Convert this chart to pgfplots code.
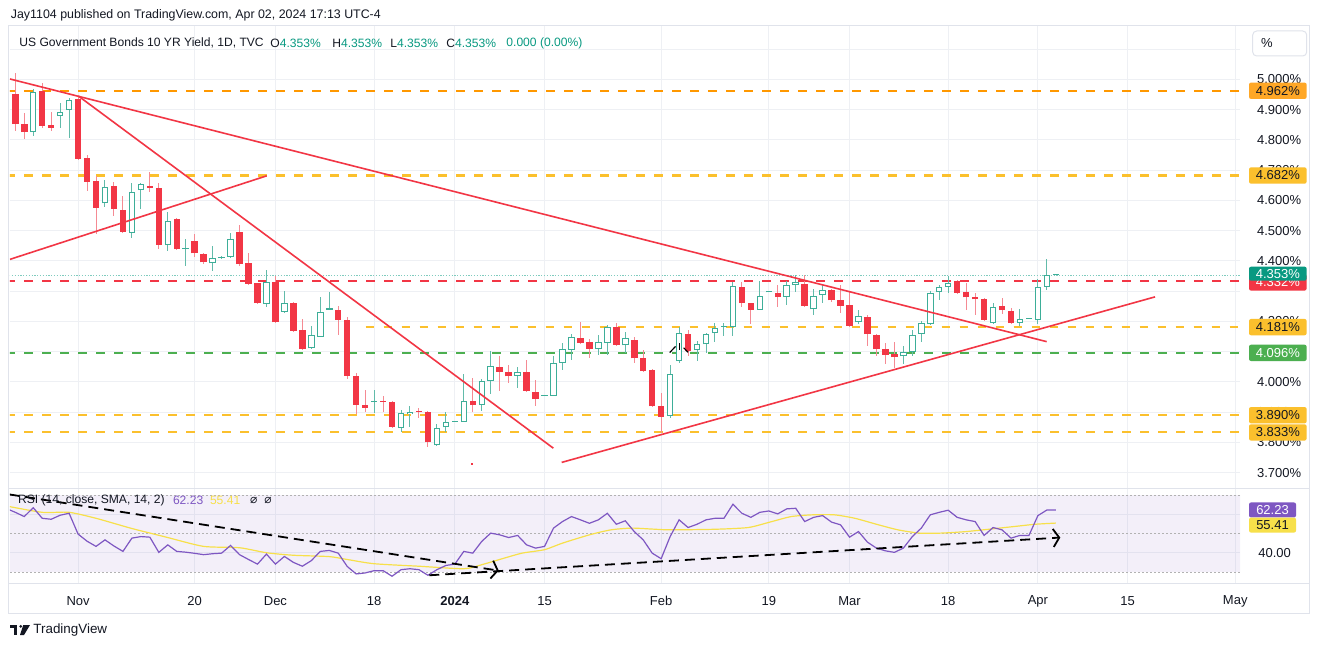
\documentclass[border=0pt]{standalone}
\usepackage{pgfplots}
\usepackage{pgfplotstable}
\pgfplotsset{compat=1.18}
\usepackage{fontspec}
\setmainfont{Liberation Sans}
\newfontfamily\symfont{DejaVu Sans}
\usetikzlibrary{arrows.meta}

\definecolor{tvred}{HTML}{F23645}
\definecolor{tvteal}{HTML}{089981}
\definecolor{tvorange}{HTML}{FF9800}
\definecolor{tvorbadge}{HTML}{FFA726}
\definecolor{tvyellow}{HTML}{FBC02D}
\definecolor{tvgreen}{HTML}{4CAF50}
\definecolor{tvpurple}{HTML}{7E57C2}
\definecolor{tvsma}{HTML}{F7E04A}
\definecolor{gridc}{HTML}{EEF0F4}
\definecolor{framec}{HTML}{E0E3EB}
\definecolor{txt}{HTML}{131722}
\definecolor{wickred}{HTML}{F58A93}
\definecolor{wickteal}{HTML}{62BBAA}
\definecolor{bordteal}{HTML}{3DAE98}
\definecolor{lastteal}{HTML}{7FCBBE}

% Red (down) candles: index, open, high, low, close
\pgfplotstableread{
i o h l c
0 4.952 5.020 4.830 4.852
1 4.852 4.890 4.803 4.825
3 4.961 4.989 4.838 4.847
4 4.848 4.893 4.830 4.840
7 4.935 4.941 4.736 4.737
8 4.739 4.750 4.632 4.662
9 4.664 4.681 4.488 4.576
11 4.648 4.662 4.548 4.572
12 4.568 4.615 4.491 4.497
15 4.646 4.695 4.627 4.642
16 4.642 4.656 4.438 4.453
18 4.537 4.540 4.436 4.438
20 4.467 4.489 4.414 4.425
21 4.422 4.425 4.390 4.395
25 4.494 4.517 4.384 4.389
26 4.394 4.425 4.323 4.325
27 4.326 4.328 4.257 4.260
29 4.331 4.350 4.194 4.197
31 4.260 4.265 4.166 4.169
32 4.170 4.208 4.106 4.108
36 4.238 4.251 4.155 4.205
37 4.203 4.213 4.010 4.021
38 4.020 4.029 3.893 3.924
39 3.924 3.974 3.899 3.915
41 3.938 3.954 3.899 3.935
42 3.934 3.936 3.850 3.852
45 3.904 3.913 3.882 3.901
46 3.902 3.904 3.786 3.800
51 3.937 4.012 3.902 3.923
54 4.048 4.084 3.970 4.034
55 4.033 4.056 3.998 4.018
57 4.034 4.073 3.968 3.970
58 3.968 4.007 3.919 3.943
63 4.146 4.199 4.126 4.128
64 4.132 4.141 4.078 4.110
67 4.181 4.194 4.119 4.122
69 4.139 4.150 4.064 4.078
70 4.080 4.106 4.034 4.036
71 4.039 4.042 3.916 3.919
72 3.919 3.963 3.830 3.885
75 4.159 4.172 4.084 4.102
81 4.315 4.329 4.249 4.260
82 4.260 4.262 4.191 4.238
85 4.295 4.320 4.247 4.280
88 4.325 4.354 4.249 4.252
91 4.304 4.306 4.265 4.269
92 4.271 4.320 4.227 4.252
93 4.254 4.298 4.183 4.185
95 4.214 4.221 4.117 4.158
96 4.154 4.157 4.086 4.108
97 4.108 4.130 4.059 4.089
98 4.091 4.133 4.045 4.082
105 4.332 4.337 4.293 4.295
106 4.296 4.328 4.236 4.279
107 4.280 4.295 4.221 4.273
108 4.274 4.276 4.203 4.205
110 4.251 4.276 4.225 4.236
111 4.235 4.243 4.192 4.194
}\redc

% Green (up) candles
\pgfplotstableread{
i o h l c
2 4.825 4.967 4.811 4.957
5 4.878 4.921 4.840 4.893
6 4.898 4.937 4.807 4.933
10 4.590 4.667 4.579 4.645
13 4.493 4.656 4.477 4.629
14 4.634 4.656 4.570 4.653
17 4.452 4.561 4.431 4.533
19 4.439 4.471 4.384 4.440
22 4.392 4.449 4.367 4.409
23 4.409 4.416 4.406 4.414
24 4.414 4.493 4.409 4.472
28 4.257 4.370 4.249 4.330
30 4.232 4.301 4.227 4.260
33 4.111 4.186 4.108 4.154
34 4.150 4.280 4.148 4.230
35 4.238 4.298 4.236 4.243
40 3.933 3.974 3.896 3.938
43 3.849 3.907 3.836 3.896
44 3.893 3.921 3.850 3.902
47 3.790 3.860 3.789 3.847
48 3.850 3.900 3.836 3.868
49 3.869 3.869 3.869 3.869
50 3.867 4.026 3.866 3.937
52 3.923 4.010 3.905 4.003
53 4.004 4.102 3.959 4.053
56 4.020 4.048 3.981 4.033
59 3.954 3.954 3.954 3.954
60 3.954 4.086 3.952 4.064
61 4.064 4.130 4.040 4.108
62 4.106 4.159 4.073 4.148
65 4.108 4.155 4.089 4.133
66 4.128 4.188 4.089 4.183
68 4.121 4.166 4.097 4.144
73 3.888 4.056 3.880 4.026
74 4.069 4.180 4.062 4.161
76 4.104 4.135 4.070 4.124
77 4.124 4.163 4.095 4.157
78 4.161 4.194 4.131 4.177
79 4.183 4.194 4.152 4.186
80 4.183 4.329 4.152 4.318
83 4.238 4.332 4.236 4.284
84 4.296 4.296 4.296 4.296
86 4.280 4.332 4.254 4.320
87 4.320 4.354 4.298 4.329
89 4.240 4.306 4.221 4.284
90 4.287 4.320 4.260 4.304
94 4.197 4.238 4.192 4.218
99 4.084 4.119 4.059 4.100
100 4.099 4.172 4.086 4.154
101 4.159 4.202 4.133 4.194
102 4.191 4.302 4.188 4.293
103 4.296 4.320 4.271 4.312
104 4.313 4.350 4.293 4.326
109 4.194 4.262 4.192 4.247
112 4.194 4.241 4.186 4.207
113 4.208 4.208 4.208 4.208
114 4.203 4.339 4.192 4.315
115 4.315 4.406 4.304 4.354
116 4.353 4.353 4.353 4.353
}\greenc

% RSI(14)
\pgfplotstableread{
i v
-1 63.0
0 61.0
1 58.8
2 63.4
3 57.9
4 57.4
5 59.5
6 60.5
7 49.7
8 46.0
9 43.3
10 46.7
11 43.5
12 40.7
13 47.6
14 48.4
15 48.1
16 40.2
17 44.1
18 40.7
19 40.3
20 39.7
21 39.0
22 39.5
23 39.8
24 43.8
25 39.0
26 36.5
27 34.1
28 39.3
29 34.1
30 38.1
31 35.0
32 33.0
33 35.9
34 40.7
35 41.2
36 39.8
37 32.9
38 29.0
39 29.5
40 30.7
41 30.7
42 27.8
43 31.2
44 31.7
45 31.2
46 28.3
47 31.2
48 33.4
49 34.1
50 40.7
51 39.8
52 45.9
53 50.2
54 49.3
55 47.9
56 49.0
57 44.1
58 42.4
59 43.3
60 52.8
61 56.2
62 58.8
63 57.1
64 55.3
65 57.1
66 60.5
67 54.8
68 56.6
69 51.0
70 46.7
71 39.8
72 36.9
73 48.4
74 57.1
75 53.1
76 54.8
77 57.1
78 57.9
79 57.9
80 65.2
81 60.5
82 58.4
83 61.0
84 61.7
85 60.2
86 62.8
87 63.1
88 56.2
89 58.4
90 59.3
91 55.9
92 54.5
93 48.1
94 51.0
95 45.5
96 42.4
97 41.0
98 40.2
99 42.4
100 48.4
101 52.8
102 59.7
103 61.0
104 62.1
105 58.4
106 57.1
107 56.2
108 49.0
109 53.1
110 51.9
111 47.6
112 49.0
113 49.0
114 59.3
115 62.2
116 62.23
}\rsi

\begin{document}
\begin{tikzpicture}
\fill[white] (0,0) rectangle (660pt,324pt);
% frame
\draw[framec, line width=0.5pt] (4pt,17.5pt) rectangle (654.5pt,311pt);
\draw[framec, line width=0.5pt] (4pt,79.75pt) -- (654.5pt,79.75pt);
\draw[framec, line width=0.5pt] (4pt,32.5pt) -- (654.5pt,32.5pt);

% ===== main price pane =====
\begin{axis}[
  at={(5pt,80pt)}, anchor=south west, scale only axis,
  width=615pt, height=231pt,
  xmin=-0.59, xmax=136.53, ymin=3.6494, ymax=5.1761,
  axis line style={draw=none}, major tick length=0pt,
  xtick={7,20,29,40,49,59,72,84,93,104,114,124,136}, xticklabels={},
  ytick={3.7,3.8,3.9,4.0,4.2,4.4,4.5,4.6,4.7,4.8,4.9,5.0},
  extra y ticks={4.1,4.3,5.1}, extra y tick labels={},
  extra y tick style={grid=major},
  yticklabel pos=right,
  yticklabel={\pgfmathprintnumber[fixed,fixed zerofill,precision=3,assume math mode=true]{\tick}\%},
  yticklabel style={font=\fontsize{6.5}{7}\selectfont, text=txt, anchor=west, inner sep=0pt, xshift=8.35pt},
  grid=major, grid style={draw=gridc, line width=0.5pt},
]
% horizontal levels
\addplot[draw=lastteal, line width=0.55pt, dash pattern=on 0.6pt off 0.8pt] coordinates {(-1,4.353) (140,4.353)};
\addplot[draw=tvorange, line width=1.05pt, dash pattern=on 4.2pt off 4.8pt] coordinates {(-1,4.962) (140,4.962)};
\addplot[draw=tvyellow, line width=1.05pt, dash pattern=on 4.2pt off 4.8pt] coordinates {(-1,4.682) (140,4.682)};
\addplot[draw=tvred, line width=1.05pt, dash pattern=on 4.2pt off 4.8pt] coordinates {(-1,4.332) (140,4.332)};
\addplot[draw=tvyellow, line width=1.05pt, dash pattern=on 4.2pt off 4.8pt] coordinates {(39.06,4.181) (140,4.181)};
\addplot[draw=tvgreen, line width=1.05pt, dash pattern=on 4.2pt off 4.8pt] coordinates {(-1,4.096) (140,4.096)};
\addplot[draw=tvyellow, line width=1.05pt, dash pattern=on 4.2pt off 4.8pt] coordinates {(-1,3.890) (140,3.890)};
\addplot[draw=tvyellow, line width=1.05pt, dash pattern=on 4.2pt off 4.8pt] coordinates {(-1,3.833) (140,3.833)};

% wicks
\addplot[draw=none, mark=none, forget plot, error bars/.cd, y dir=both, y explicit, error mark=none,
  error bar style={draw=wickred, line width=0.5pt}]
  table[x=i, y=c, y error plus expr=\thisrow{h}-\thisrow{c}, y error minus expr=\thisrow{c}-\thisrow{l}] {\redc};
\addplot[draw=none, mark=none, forget plot, error bars/.cd, y dir=both, y explicit, error mark=none,
  error bar style={draw=wickteal, line width=0.5pt}]
  table[x=i, y=c, y error plus expr=\thisrow{h}-\thisrow{c}, y error minus expr=\thisrow{c}-\thisrow{l}] {\greenc};
% bodies
\addplot[draw=none, mark=none, forget plot, error bars/.cd, y dir=plus, y explicit, error mark=none,
  error bar style={draw=tvred, line width=3.25pt}]
  table[x=i, y=c, y error plus expr={max(\thisrow{o}-\thisrow{c},0.0033)}] {\redc};
\addplot[draw=none, mark=none, forget plot, error bars/.cd, y dir=plus, y explicit, error mark=none,
  error bar style={draw=bordteal, line width=3.25pt}]
  table[x=i, y=o, y error plus expr={max(\thisrow{c}-\thisrow{o},0.0033)}] {\greenc};
\addplot[draw=none, mark=none, forget plot, error bars/.cd, y dir=plus, y explicit, error mark=none,
  error bar style={draw=white, line width=2.25pt}]
  table[x=i, y expr=\thisrow{o}+0.0033, y error plus expr={max(\thisrow{c}-\thisrow{o}-0.0066,0)}] {\greenc};

% trend lines
\addplot[draw=tvred, line width=0.8pt] coordinates {(-0.59,5.001) (114.98,4.133)};
\addplot[draw=tvred, line width=0.8pt] coordinates {(7.02,4.945) (59.98,3.781)};
\addplot[draw=tvred, line width=0.8pt] coordinates {(-0.59,4.405) (28.03,4.681)};
\addplot[draw=tvred, line width=0.8pt] coordinates {(60.91,3.734) (127.06,4.281)};
% small marks
\addplot[draw=black, line width=0.6pt] coordinates {(72.95,4.097) (73.6,4.117)};
\addplot[draw=black, line width=0.6pt] coordinates {(74.0,4.128) (74.0,4.104)};
\addplot[draw=black, line width=0.6pt] coordinates {(74.5,4.113) (75.0,4.098)};
\addplot[only marks, mark=square*, mark size=0.45pt, tvred] coordinates {(50.9,3.729)};

\coordinate (b1) at (axis cs:136.53,4.962);
\coordinate (b2) at (axis cs:136.53,4.682);
\coordinate (b3) at (axis cs:136.53,4.332);
\coordinate (b4) at (axis cs:136.53,4.353);
\coordinate (b5) at (axis cs:136.53,4.181);
\coordinate (b6) at (axis cs:136.53,4.096);
\coordinate (b7) at (axis cs:136.53,3.890);
\coordinate (b8) at (axis cs:136.53,3.833);
\end{axis}

% ===== RSI pane =====
\begin{axis}[
  at={(5pt,32.5pt)}, anchor=south west, scale only axis,
  width=615pt, height=47pt,
  xmin=-0.59, xmax=136.53, ymin=24.286, ymax=73.117,
  axis line style={draw=none}, major tick length=0pt,
  xtick={7,20,29,40,49,59,72,84,93,104,114,124,136},
  xticklabels={Nov,20,Dec,18,\textbf{2024},15,Feb,19,Mar,18,Apr,15,May},
  xticklabel style={font=\fontsize{6.5}{7}\selectfont, text=txt, anchor=center, yshift=-9pt},
  ytick={40},
  extra y ticks={60}, extra y tick labels={}, extra y tick style={grid=major},
  yticklabel pos=right,
  yticklabel={\pgfmathprintnumber[fixed,fixed zerofill,precision=2,assume math mode=true]{\tick}},
  yticklabel style={font=\fontsize{6.5}{7}\selectfont, text=txt, anchor=west, inner sep=0pt, xshift=9pt},
  grid=major, grid style={draw=gridc, line width=0.5pt},
]
\addplot[draw=none, fill=tvpurple, fill opacity=0.09] coordinates {(-1,30) (140,30) (140,70) (-1,70)} -- cycle;
\addplot[draw=gray!60, line width=0.5pt, dash pattern=on 1pt off 1pt] coordinates {(-1,70) (140,70)};
\addplot[draw=gray!60, line width=0.5pt, dash pattern=on 1pt off 1pt] coordinates {(-1,50) (140,50)};
\addplot[draw=gray!60, line width=0.5pt, dash pattern=on 1pt off 1pt] coordinates {(-1,30) (140,30)};
\addplot[draw=tvsma, line width=0.6pt, smooth, tension=0.4] coordinates {
(-1,64.3) (3,61.0) (6,61.0) (9,57.9) (13,52.6) (17,47.9) (21,43.3) (25,42.6) (28,40.0)
(31,38.7) (35,38.0) (37,36.5) (40,34.3) (45,33.0) (50,31.7) (52,33.8) (54.5,37.2) (56.5,39.8)
(59,41.6) (61,45.0) (64,49.3) (66.4,51.9) (68.7,52.8) (71,52.3) (73,51.9) (78,52.2) (81.7,53.1)
(84.1,55.9) (86.5,58.8) (88.9,59.7) (91.3,59.7) (93.6,57.9) (96,54.8) (98.4,51.9) (100.8,50.2)
(103.2,50.2) (106,51.0) (108.9,52.4) (111.3,53.6) (113.7,54.8) (116,55.41)};
\addplot[draw=tvpurple, line width=0.6pt] table[x=i, y=v] {\rsi};
\addplot[draw=black, line width=0.9pt, dash pattern=on 5pt off 3pt, -{Straight Barb[length=3pt,width=9pt]}] coordinates {(-0.67,70.3) (53.9,30.7)};
\addplot[draw=black, line width=0.9pt, dash pattern=on 5pt off 3pt, -{Straight Barb[length=3pt,width=9pt]}] coordinates {(46.15,28.3) (116.5,47.9)};
\coordinate (r1) at (axis cs:136.53,62.23);
\coordinate (r2) at (axis cs:136.53,55.41);
\end{axis}

% ===== price badges =====
\tikzset{badge/.style={rectangle, rounded corners=1pt, minimum width=28.8pt, minimum height=8.15pt, inner sep=0pt, font=\fontsize{6.5}{7}\selectfont}}
\node[badge, fill=tvorbadge, text=txt] at ([xshift=18.9pt]b1) {4.962\%};
\node[badge, fill=tvyellow, text=txt] at ([xshift=18.9pt]b2) {4.682\%};
\node[badge, fill=tvred, text=white] at ([xshift=18.9pt,yshift=-0.5pt]b3) {4.332\%};
\node[badge, minimum height=7pt, fill=tvteal, text=white] at ([xshift=18.9pt,yshift=0.7pt]b4) {4.353\%};
\node[badge, fill=tvyellow, text=txt] at ([xshift=18.9pt]b5) {4.181\%};
\node[badge, fill=tvgreen, text=white] at ([xshift=18.9pt]b6) {4.096\%};
\node[badge, fill=tvyellow, text=txt] at ([xshift=18.9pt]b7) {3.890\%};
\node[badge, fill=tvyellow, text=txt] at ([xshift=18.9pt]b8) {3.833\%};
\node[badge, minimum width=23.5pt, minimum height=7.5pt, fill=tvpurple, text=white] at ([xshift=16.25pt]r1) {62.23};
\node[badge, minimum width=23.5pt, minimum height=7.5pt, fill=tvsma, text=txt] at ([xshift=16.25pt,yshift=-1pt]r2) {55.41};

% ===== texts =====
\node[anchor=west, inner sep=0pt, font=\fontsize{6.2}{7}\selectfont, text=txt] at (5.25pt,316.5pt) {Jay1104 published on TradingView.com, Apr 02, 2024 17:13 UTC-4};
\begin{scope}[every node/.style={anchor=west, inner sep=0pt, font=\fontsize{6.05}{7}\selectfont, text=txt}]
\node at (9.5pt,302.5pt) {US Government Bonds 10 YR Yield, 1D, TVC};
\node at (135pt,302.5pt) {O\textcolor{tvteal}{4.353\%}};
\node at (166pt,302.5pt) {H\textcolor{tvteal}{4.353\%}};
\node at (195pt,302.5pt) {L\textcolor{tvteal}{4.353\%}};
\node at (223pt,302.5pt) {C\textcolor{tvteal}{4.353\%}};
\node at (253pt,302.5pt) {\textcolor{tvteal}{0.000 (0.00\%)}};
\node at (8.85pt,74pt) {RSI (14, close, SMA, 14, 2)};
\node at (86.3pt,74pt) {\textcolor{tvpurple}{62.23}};
\node at (104.8pt,74pt) {\textcolor{tvsma}{55.41}};
\node at (124.8pt,74pt) {\symfont ⌀};
\node at (132pt,74pt) {\symfont ⌀};
\end{scope}
% percent box
\draw[framec, fill=white, rounded corners=2pt, line width=0.5pt] (626.35pt,296pt) rectangle (653.35pt,308.5pt);
\node[font=\fontsize{6.5}{7}\selectfont, text=txt] at (633.5pt,302.25pt) {\%};
% footer logo and name
\fill[txt] (5pt,11.5pt) rectangle (8.65pt,9.85pt);
\fill[txt] (7pt,11.5pt) rectangle (8.65pt,6.5pt);
\fill[txt] (10.35pt,10.8pt) circle (0.75pt);
\fill[txt] (11.65pt,11.5pt) -- (15pt,11.5pt) -- (12pt,6.5pt) -- (10pt,6.5pt) -- cycle;
\node[anchor=west, inner sep=0pt, font=\fontsize{6.7}{8}\selectfont, text=txt] at (16.5pt,8.8pt) {TradingView};
\end{tikzpicture}
\end{document}
